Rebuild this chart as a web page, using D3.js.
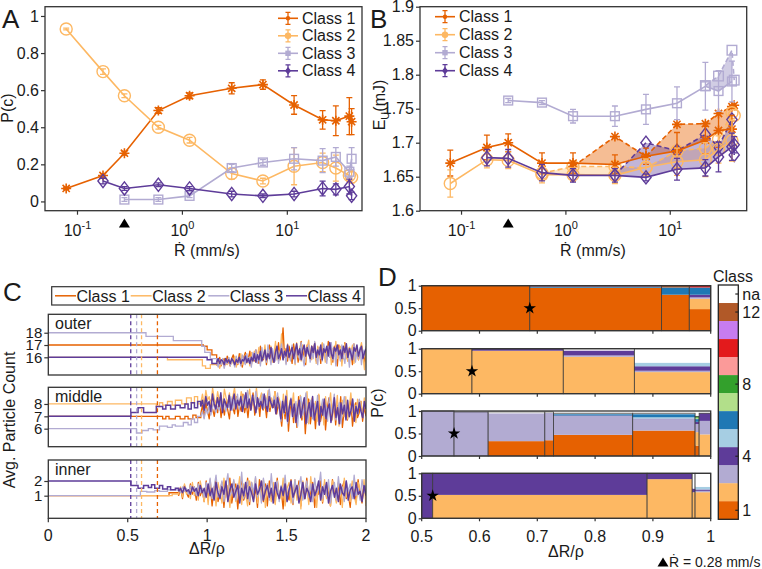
<!DOCTYPE html>
<html><head><meta charset="utf-8">
<script src="https://cdn.jsdelivr.net/npm/d3@7/dist/d3.min.js"></script>
<style>html,body{margin:0;padding:0;background:#fff}svg{display:block}</style>
</head><body>
<svg id="fig" width="762" height="569" xmlns="http://www.w3.org/2000/svg"></svg>
<script>
// ================= DATA =================
const classNames = ["Class 1","Class 2","Class 3","Class 4"];
const classColors = ["#e66101","#fdb863","#b2abd2","#5e3c99"];
const classMarkers = ["ast","circle","square","diamond"];
const rateTicks = [0.1, 1, 10];
const rateTickExp = ["-1","0","1"];
const markedRate = 0.28;
const rates = [0.078,0.175,0.28,0.59,1.17,2.95,5.85,11.6,21.7,29,39,41];

// Panel A: P(c)
const probC1 = [0.07,0.14,0.26,0.49,0.57,0.61,0.63,0.52,0.44,0.435,0.46,0.43];
const probC1Err = [0.005,0.01,0.01,0.015,0.015,0.03,0.025,0.05,0.05,0.08,0.1,0.07];
const probC2 = [0.93,0.70,0.57,0.40,0.33,0.15,0.11,0.19,0.21,0.18,0.14,0.13];
const probC2Err = [0.005,0.015,0.01,0.01,0.015,0.03,0.015,0.1,0.05,0.07,0.03,0.03];
const probC3 = [null,null,0.01,0.01,0.03,0.18,0.21,0.23,0.22,0.24,0.16,0.23];
const probC3Err = [null,null,0.01,0.01,0.01,0.02,0.015,0.06,0.065,0.05,0.03,0.06];
const probC4 = [null,0.11,0.07,0.09,0.07,0.04,0.03,0.04,0.07,0.065,0.08,0.03];
const probC4Err = [null,0.015,0.01,0.01,0.01,0.015,0.01,0.015,0.04,0.03,0.04,0.02];
const probTicks = [0,0.2,0.4,0.6,0.8,1];

// Panel B: E_U (mJ), mean with error (solid) and alternate estimate (dashed)
const energyC1 = [1.670,1.693,1.700,1.670,1.670,1.668,1.680,1.688,1.704,1.718,1.720,null];
const energyC1Err = [0.019,0.018,0.013,0.015,0.015,0.014,0.012,0.027,0.02,0.025,0.02,null];
const energyC1Alt = [null,null,null,null,1.665,1.709,1.680,1.727,1.728,1.743,1.753,1.755];
const energyC2 = [1.640,1.675,1.674,1.653,1.653,1.652,1.664,1.672,1.675,1.690,1.703,null];
const energyC2Err = [0.02,0.012,0.012,0.012,0.01,0.012,0.012,0.02,0.025,0.02,0.03,null];
const energyC2Alt = [null,null,null,1.655,1.665,1.665,1.663,1.688,1.692,1.705,1.744,1.740];
const energyC3 = [null,null,1.762,1.759,1.739,1.739,1.749,1.758,1.783,1.776,1.790,null];
const energyC3Err = [null,null,0.003,0.003,0.01,0.015,0.022,0.024,0.035,0.03,0.03,null];
const energyC3Alt = [null,null,null,null,null,null,null,null,1.784,1.798,1.836,1.792];
const energyC4 = [null,1.678,1.677,1.656,1.652,1.652,1.649,1.661,1.663,1.679,1.694,1.697];
const energyC4Err = [null,0.012,0.013,0.012,0.01,0.01,0.005,0.016,0.012,0.022,0.02,0.012];
const energyC4Alt = [null,null,null,null,null,1.652,1.700,1.688,1.712,1.694,1.734,1.682];
const energyTicks = [1.6,1.65,1.7,1.75,1.8,1.85,1.9];

// Transition points (ΔR/ρ) per class, used in C (dashed) and D (stars)
const transitionDR = [0.687, 0.587, 0.556, 0.519];

// Panel C: particle counts — step breakpoints [ΔR/ρ, count], then noisy samples up to ΔR/ρ = 2
const outerStep1 = [[0,17],[0.976,16.9],[1.0,16.6],[1.03,16.2]];
const outerStep2 = [[0,16],[0.75,15.8],[0.97,15.3],[0.99,15.1],[1.02,15.4]];
const outerStep3 = [[0,18],[0.615,17.7],[0.787,17.35],[0.966,16.9],[0.985,16.4],[1.02,15.9]];
const outerStep4 = [[0,16],[1.0,15.8],[1.03,15.5]];
const outerNoise1 = [15.8,15.5,16.0,15.3,15.7,15.9,15.4,16.1,15.6,15.3,15.9,16.2,15.5,15.8,15.4,16.3,15.7,15.2,16.0,16.4,15.6,15.9,16.5,15.4,16.1,15.7,16.6,16.0,15.5,16.9,16.2,15.8,16.7,15.4,16.4,17.0,15.9,16.3,15.6,16.8,16.1,17.2,15.8,16.5,18.4,16.0,16.7,15.7,16.9,16.3,15.5,17.1,16.2,16.8,15.6,16.5,17.3,16.0,16.6,15.4,17.0,16.3,15.9,16.9,16.1,17.2,15.7,16.4,16.8,15.5,17.1,16.2,16.6,15.8,17.3,16.0,16.7,15.6,16.9,16.4,15.3,17.0,16.1,16.6,15.9,17.2,16.3,15.7,16.8,16.5,15.4,17.1,16.0,16.7,15.8,16.4,17.0,16.2,15.6,16.6];
const outerNoise2 = [15.3,15.6,15.1,15.5,15.8,15.2,15.7,15.4,16.0,15.3,15.8,15.5,16.1,15.2,15.9,15.6,16.3,15.4,15.8,16.2,15.5,16.0,15.3,16.4,15.7,16.5,15.6,16.1,16.8,15.5,16.3,15.9,17.0,15.7,16.4,16.0,16.9,15.6,16.2,17.3,15.8,16.5,16.1,17.9,16.0,16.6,15.5,17.1,16.2,15.8,16.9,16.3,15.4,17.2,16.0,16.7,15.7,17.0,16.4,15.6,16.8,17.4,16.1,15.8,16.6,17.1,15.5,16.9,16.3,15.9,17.2,16.5,15.6,16.8,16.2,17.0,15.4,16.7,16.1,17.3,15.9,16.5,16.9,15.3,16.6,17.1,16.0,15.7,16.8,16.4,17.0,15.5,16.3,16.9,15.8,16.6,17.2,16.1,15.0,16.5];
const outerNoise3 = [15.6,15.2,15.8,15.4,15.9,15.1,15.7,15.5,16.0,15.3,15.8,15.6,15.2,16.1,15.5,15.9,15.3,16.2,15.7,15.4,16.3,15.6,16.0,15.2,16.4,15.8,16.6,15.5,16.2,15.3,16.8,15.9,16.4,15.6,17.0,16.1,15.4,16.7,16.0,15.7,16.9,15.5,16.3,17.1,15.8,16.5,15.4,16.8,16.1,15.7,17.0,16.2,15.5,16.9,16.4,15.8,17.2,16.0,15.3,16.7,16.3,17.0,15.6,16.5,15.9,17.3,16.1,15.4,16.8,16.2,15.7,17.1,16.4,15.5,16.9,16.0,17.2,15.8,16.6,15.3,16.9,16.3,15.7,17.0,16.1,15.5,16.8,16.4,15.2,16.7,16.0,17.1,15.6,16.5,15.9,16.8,15.4,16.6,16.2,16.9];
const outerNoise4 = [15.6,15.9,15.5,15.8,15.7,15.4,15.9,15.6,15.8,15.5,15.9,15.7,15.4,15.8,15.6,16.0,15.5,15.8,15.7,16.1,15.6,15.9,15.5,16.0,15.7,16.3,15.6,16.2,15.8,16.5,15.7,16.1,16.6,15.8,16.3,15.9,16.8,16.0,15.6,16.4,16.9,15.9,16.2,16.7,15.8,16.5,16.1,17.0,16.0,16.4,16.8,15.9,16.5,17.1,16.2,16.7,15.8,16.6,17.0,16.1,16.8,16.3,15.9,16.9,16.4,17.1,16.0,16.6,16.2,17.0,15.8,16.7,16.4,16.9,16.1,17.2,16.3,15.9,16.8,16.5,17.0,16.2,16.6,15.9,16.9,16.4,17.1,16.0,16.7,16.3,15.8,16.8,16.5,17.0,16.1,16.6,16.9,15.9,16.4,16.7];
const middleStep1 = [[0,7],[0.69,7.0],[0.72,6.8],[0.74,7.0],[0.76,6.8],[0.8,7.0],[0.83,6.8],[0.86,7.0],[0.88,6.8],[0.91,7.1],[0.93,6.9]];
const middleStep2 = [[0,8],[0.68,7.8],[0.7,8.1],[0.72,7.9],[0.75,8.2],[0.78,7.9],[0.8,8.3],[0.84,8.0],[0.87,8.5],[0.9,8.1],[0.92,8.6],[0.94,8.0]];
const middleStep3 = [[0,6],[0.555,5.65],[0.59,5.85],[0.63,6.0],[0.66,5.9],[0.7,6.2],[0.75,6.1],[0.78,6.3],[0.8,6.2],[0.85,6.5],[0.88,6.3],[0.9,6.8],[0.92,6.5],[0.94,7.0]];
const middleStep4 = [[0,7],[0.52,7.3],[0.565,7.7],[0.6,7.3],[0.66,7.3],[0.68,7.8],[0.72,7.6],[0.74,7.9],[0.77,7.6],[0.8,7.9],[0.83,7.7],[0.86,8.0],[0.88,7.6],[0.9,8.1],[0.92,7.7],[0.94,8.2]];
const middleNoise1 = [7.2,7.9,6.9,8.1,7.4,6.8,8.3,7.6,7.0,8.0,7.3,8.5,6.9,7.8,7.1,8.2,7.5,6.8,8.4,7.7,7.2,8.6,7.0,7.9,7.4,8.8,7.3,8.0,6.9,8.3,7.6,8.9,7.1,7.8,8.4,7.0,8.6,7.5,8.1,6.9,8.7,7.4,8.2,7.7,9.0,7.2,8.0,7.4,6.2,8.1,6.8,8.5,5.8,7.6,8.3,6.5,7.9,6.1,8.6,7.2,6.7,8.2,5.6,7.7,8.4,6.4,7.5,8.0,6.0,7.8,8.7,6.6,7.3,8.1,5.9,7.6,8.5,6.9,7.2,8.3,6.3,7.9,6.8,8.6,6.1,7.4,8.0,6.7,7.7,8.4,6.2,7.5,8.1,6.9,7.3,8.2,6.6,7.8,7.0];
const middleNoise2 = [8.1,8.8,7.9,9.1,8.3,8.6,7.8,9.3,8.4,8.0,9.0,8.2,8.7,7.7,9.2,8.5,8.0,8.9,7.6,8.6,9.3,8.1,8.4,7.9,9.0,8.3,7.7,8.8,8.5,9.2,7.8,8.6,8.1,9.3,7.9,8.4,8.9,7.6,8.7,8.2,9.1,7.7,8.5,8.0,9.0,7.8,8.6,8.2,7.0,8.8,7.4,9.1,6.8,8.3,7.7,8.9,6.5,8.0,7.3,8.7,6.9,8.4,7.6,9.0,6.4,7.9,8.5,7.1,8.2,6.6,8.8,7.5,8.0,6.3,8.6,7.2,7.8,8.9,6.7,8.1,7.4,8.7,6.2,7.9,8.3,7.0,8.6,6.8,7.6,8.9,7.3,8.0,6.5,8.4,7.7,8.2,7.1,8.5,7.4];
const middleNoise3 = [7.0,7.4,6.8,7.6,7.2,7.9,7.1,7.7,8.1,7.3,7.8,7.5,8.2,7.6,8.4,7.4,8.0,7.7,8.6,7.5,8.3,7.9,8.8,7.6,8.4,8.0,8.7,7.7,9.1,8.2,7.8,8.6,8.0,9.0,7.6,8.4,8.1,8.8,7.7,8.5,7.9,9.2,8.2,7.8,8.6,8.0,8.9,7.6,6.6,8.3,7.2,8.7,6.4,7.8,8.5,6.9,7.5,8.2,6.2,7.9,8.6,7.1,7.7,8.9,6.5,7.4,8.3,6.8,8.0,7.3,8.7,6.3,7.6,8.4,7.0,7.9,6.6,8.5,7.2,7.8,8.8,6.7,7.5,8.1,6.4,7.7,8.6,7.1,8.0,6.9,7.4,8.3,6.8,7.9,7.2,8.4,7.5,6.9,8.0,7.6];
const middleNoise4 = [7.8,8.3,7.5,8.6,7.9,8.2,7.4,8.8,8.0,7.6,8.5,7.8,8.9,7.3,8.4,8.0,7.7,8.7,7.5,8.2,8.8,7.6,8.3,7.9,8.6,7.4,8.1,8.9,7.7,8.4,7.5,8.7,8.0,7.3,8.5,7.8,8.2,7.6,8.8,7.9,7.4,8.6,8.1,7.7,8.3,7.2,8.5,7.9,6.8,8.2,7.3,8.6,6.6,7.7,8.4,7.0,8.0,6.5,7.6,8.3,6.9,7.8,8.5,6.4,7.4,8.1,7.0,8.6,6.7,7.5,8.2,6.3,7.8,7.1,8.4,6.8,7.6,8.0,6.5,7.3,8.5,6.9,7.7,6.4,8.1,7.2,7.9,6.7,8.3,7.0,7.5,8.4,6.6,7.8,7.2,8.1,7.4,6.9,8.2,7.6];
const innerStep1 = [[0,1],[0.7,1.0],[0.76,1.2]];
const innerStep2 = [[0,1],[0.6,1.0],[0.78,1.1]];
const innerStep3 = [[0,1],[0.58,1.3],[0.62,1.25],[0.67,1.35],[0.7,1.3],[0.75,1.4]];
const innerStep4 = [[0,2],[0.52,1.7],[0.565,1.5],[0.6,1.7],[0.63,1.55],[0.65,1.75],[0.67,1.5],[0.7,1.7],[0.72,1.45],[0.75,1.6],[0.77,1.4],[0.8,1.5]];
const innerNoise1 = [1.0,1.5,0.8,1.7,1.2,0.9,1.8,1.1,1.6,0.7,1.9,1.0,1.4,0.6,2.0,0.9,1.8,0.3,1.5,2.1,0.6,1.2,1.9,0.2,1.7,1.0,2.2,0.5,1.4,1.8,0.1,1.6,2.0,0.7,1.1,2.2,0.4,1.9,0.8,1.5,0.2,2.1,1.3,0.6,1.8,0.3,2.0,1.0,1.6,0.5,2.2,0.9,1.4,0.1,1.9,1.2,0.7,2.1,0.4,1.7,1.0,2.0,0.3,1.5,0.8,2.2,0.6,1.3,1.9,0.2,1.6,1.1,2.0,0.5,1.8,0.9,1.4,0.3,2.1,1.2,0.7,1.9,0.4,1.6,2.0,0.8,1.1,0.2,1.8,1.3,0.6,2.1,1.0,0.5,1.7,0.9];
const innerNoise2 = [1.2,1.6,0.9,1.8,1.1,1.4,0.8,1.9,1.0,1.5,0.7,2.0,1.3,0.6,1.7,0.4,2.1,1.0,1.6,0.3,1.9,1.2,0.5,2.2,0.9,1.7,0.2,1.5,2.0,0.6,1.3,2.3,0.4,1.8,1.1,0.3,2.0,1.4,0.7,2.2,0.5,1.6,1.0,2.1,0.2,1.8,1.3,0.6,1.9,0.4,2.0,1.1,0.8,2.2,0.3,1.5,1.9,0.5,1.2,2.1,0.7,1.7,0.1,2.0,1.0,1.6,0.4,2.3,0.9,1.4,0.2,1.9,1.2,0.6,2.1,0.8,1.7,0.3,2.0,1.1,0.5,1.8,1.5,0.2,2.2,0.9,1.3,0.6,2.0,1.0,0.4,1.9,1.4,0.7,2.1,0.3];
const innerNoise3 = [1.4,1.2,1.6,1.3,1.5,1.1,1.7,1.3,1.6,1.0,1.8,1.2,1.5,0.9,1.9,1.2,2.2,0.8,1.6,2.4,0.9,1.4,2.0,0.6,1.7,2.5,1.0,1.3,2.1,0.7,1.8,1.1,2.6,0.8,1.5,2.0,0.6,1.9,1.2,2.3,0.9,1.6,0.5,2.2,1.3,1.8,0.7,2.5,1.0,1.5,2.0,0.6,1.7,1.2,2.4,0.8,1.4,1.9,0.5,2.1,1.1,1.6,2.3,0.7,1.3,2.0,0.9,1.8,0.6,2.2,1.2,1.5,2.6,0.8,1.7,1.0,2.1,0.5,1.4,1.9,0.7,2.3,1.1,1.6,0.6,2.0,1.3,1.8,0.8,2.4,1.0,1.5,0.7,2.1,1.2,1.7];
const innerNoise4 = [1.3,1.5,1.2,1.6,1.3,1.4,1.1,1.6,1.3,1.5,1.0,1.7,1.2,1.5,0.9,1.8,1.0,1.5,0.7,1.9,1.2,0.8,1.6,1.1,2.0,0.6,1.4,1.8,0.9,1.3,1.7,0.5,1.5,1.0,1.9,0.8,1.6,1.2,0.6,1.8,1.1,1.4,2.0,0.7,1.3,1.7,0.9,1.5,0.5,1.9,1.2,0.8,1.6,1.0,1.8,0.6,1.4,2.0,0.9,1.3,1.7,0.5,1.1,1.9,0.8,1.5,1.2,0.6,1.8,1.0,1.4,2.0,0.7,1.6,1.1,1.9,0.5,1.3,1.7,0.9,1.5,0.6,1.8,1.2,1.0,2.0,0.7,1.4,1.6,0.8,1.9,1.1,1.3,0.6,1.7,1.0];
const countPanelNames = ["outer","middle","inner"];
const countTicks = [[16,17,18],[6,7,8],[1,2]];
const noiseStartDR = [1.06, 0.96, 0.82];
const drTicksC = [0,0.5,1,1.5,2];

// Panel D: class composition by ΔR/ρ interval (class 13 = na)
const mosaicEdges1 = [0.5,0.687,0.915,0.963,1.0];
const mosaicComp1 = [[[1,1]],[[1,0.955],[6,0.03],[10,0.015]],[[1,0.80],[6,0.16],[12,0.04]],[[1,0.48],[2,0.23],[3,0.03],[4,0.06],[6,0.16],[10,0.04]]];
const mosaicEdges2 = [0.5,0.587,0.745,0.868,1.0];
const mosaicComp2 = [[[2,1]],[[2,0.955],[4,0.04]],[[2,0.82],[3,0.03],[4,0.11],[13,0.04]],[[2,0.48],[3,0.03],[4,0.10],[5,0.08],[13,0.31]]];
const mosaicEdges3 = [0.5,0.556,0.615,0.713,0.728,0.865,0.973,0.98,1.0];
const mosaicComp3 = [[[3,1]],[[3,0.98]],[[1,0.33],[3,0.62],[13,0.03]],[[1,0.35],[3,0.61],[13,0.02]],[[1,0.47],[3,0.42],[4,0.01],[6,0.03],[13,0.02]],[[1,0.565],[3,0.255],[4,0.01],[5,0.03],[6,0.07],[13,0.02]],[[1,0.23],[2,0.30],[3,0.18],[4,0.05],[6,0.06],[7,0.03],[8,0.03]],[[2,0.48],[3,0.30],[4,0.17]]];
const mosaicEdges4 = [0.5,0.519,0.89,0.968,0.973,1.0];
const mosaicComp4 = [[[4,1]],[[2,0.52],[4,0.48]],[[2,0.87],[4,0.13]],[[2,0.58],[4,0.08],[13,0.34]],[[2,0.58],[3,0.03],[4,0.03],[5,0.06],[13,0.30]]];
const mosaicClassColors = ["#e66101","#fdb863","#b2abd2","#5e3c99","#a6cee3","#1f78b4","#b2df8a","#33a02c","#fb9a99","#e31a1c","#c77cf0","#b15928","#ffffff"];
const colorbarLabels = [[13,"na"],[12,"12"],[8,"8"],[4,"4"],[1,"1"]];
const drTicksD = [0.5,0.6,0.7,0.8,0.9,1];
const pcTicksD = [0,0.5,1];

// ================= DRAWING =================
const FONT = '"Liberation Sans", Arial, Helvetica, sans-serif';
const INK = "#1a1a1a";
const AXC = "#333";
const svg = d3.select("#fig");

function text(x, y, s, size, anchor, g) {
  return (g || svg).append("text").attr("x", x).attr("y", y).attr("font-family", FONT)
    .attr("font-size", size).attr("fill", INK).attr("text-anchor", anchor || "start").text(s);
}
function box(x0, y0, x1, y1) {
  svg.append("rect").attr("x", x0).attr("y", y0).attr("width", x1 - x0).attr("height", y1 - y0)
    .attr("fill", "none").attr("stroke", AXC).attr("stroke-width", 1.3);
}
function leftAxis(y, x, vals, fmt, size, tick) {
  const g = svg.append("g").attr("transform", `translate(${x},0)`)
    .call(d3.axisLeft(y).tickValues(vals).tickFormat(fmt).tickSize(tick || 4).tickPadding(2));
  g.select(".domain").remove();
  g.selectAll("line").attr("stroke", AXC).attr("stroke-width", 1.2);
  g.selectAll("text").attr("font-size", size || 16).attr("font-family", FONT).attr("fill", INK);
  return g;
}
function bottomTicks(x, y, vals, len) {
  vals.forEach(v => svg.append("line").attr("x1", x(v)).attr("x2", x(v)).attr("y1", y).attr("y2", y + (len || 4))
    .attr("stroke", AXC).attr("stroke-width", 1.2));
}
function marker(g, type, cx, cy, color, s, filled) {
  const sw = filled ? 1.2 : 1.4;
  if (type === "ast") {
    const k = s * 0.72;
    g.append("path").attr("d", `M${cx-s},${cy}L${cx+s},${cy}M${cx},${cy-s}L${cx},${cy+s}M${cx-k},${cy-k}L${cx+k},${cy+k}M${cx-k},${cy+k}L${cx+k},${cy-k}`)
      .attr("stroke", color).attr("stroke-width", 1.6).attr("fill", "none");
  } else if (type === "circle") {
    g.append("circle").attr("cx", cx).attr("cy", cy).attr("r", s)
      .attr("fill", filled ? color : "none").attr("stroke", color).attr("stroke-width", sw);
  } else if (type === "square") {
    const h = s * 0.8;
    g.append("rect").attr("x", cx - h).attr("y", cy - h).attr("width", 2 * h).attr("height", 2 * h)
      .attr("fill", filled ? color : "none").attr("stroke", color).attr("stroke-width", sw);
  } else {
    const w = s * 0.85;
    g.append("path").attr("d", `M${cx},${cy-s*1.1}L${cx+w},${cy}L${cx},${cy+s*1.1}L${cx-w},${cy}Z`)
      .attr("fill", filled ? color : "none").attr("stroke", color).attr("stroke-width", sw);
  }
}
function series(g, xs, ys, errs, xS, yS, color, mtype, msize, dashed) {
  const pts = xs.map((x, i) => ({ x, y: ys[i], e: errs ? errs[i] : null })).filter(d => d.y != null);
  g.append("path").datum(pts).attr("d", d3.line().x(d => xS(d.x)).y(d => yS(d.y)))
    .attr("fill", "none").attr("stroke", color).attr("stroke-width", 1.6)
    .attr("stroke-dasharray", dashed ? "5,3" : null);
  pts.forEach(d => {
    const cx = xS(d.x), cy = yS(d.y);
    if (d.e != null) {
      const y1 = yS(d.y + d.e), y2 = yS(d.y - d.e);
      g.append("path").attr("d", `M${cx},${y1}L${cx},${y2}M${cx-3},${y1}L${cx+3},${y1}M${cx-3},${y2}L${cx+3},${y2}`)
        .attr("stroke", color).attr("stroke-width", 1.3).attr("fill", "none");
    }
    marker(g, mtype, cx, cy, color, msize, false);
  });
}
function legendRateStyle(x0, yTop, spacing) {
  classNames.forEach((nm, i) => {
    const y = yTop + i * spacing, c = classColors[i];
    svg.append("line").attr("x1", x0).attr("x2", x0 + 20).attr("y1", y).attr("y2", y).attr("stroke", c).attr("stroke-width", 1.6);
    svg.append("path").attr("d", `M${x0+10},${y-6}L${x0+10},${y+6}M${x0+7.5},${y-6}L${x0+12.5},${y-6}M${x0+7.5},${y+6}L${x0+12.5},${y+6}`)
      .attr("stroke", c).attr("stroke-width", 1.3);
    const g = svg.append("g");
    if (classMarkers[i] === "ast") g.append("circle").attr("cx", x0 + 10).attr("cy", y).attr("r", 2.2).attr("fill", c);
    else marker(g, classMarkers[i], x0 + 10, y, c, 2.6, true);
    text(x0 + 24, y + 5.5, nm, 16);
  });
}
function logLabels(scale, y) {
  rateTicks.forEach((v, i) => {
    const t = svg.append("text").attr("x", scale(v)).attr("y", y).attr("text-anchor", "middle")
      .attr("font-size", 16).attr("font-family", FONT).attr("fill", INK);
    t.append("tspan").text("10");
    t.append("tspan").attr("dy", -7).attr("font-size", 11).text(rateTickExp[i]);
  });
}
function triangleAt(x, yTop, w) {
  svg.append("path").attr("d", `M${x-w/2},${yTop+9}L${x+w/2},${yTop+9}L${x},${yTop}Z`).attr("fill", "#000");
}
function rotLabel(x, y, build) {
  const t = svg.append("text").attr("transform", `translate(${x},${y}) rotate(-90)`).attr("text-anchor", "middle")
    .attr("font-family", FONT).attr("font-size", 16).attr("fill", INK);
  build(t);
}

// ---------- Panel A ----------
const xA = d3.scaleLog().domain([0.049, 51.5]).range([45, 362]);
const yA = d3.scaleLinear().domain([-0.05, 1.05]).range([210.7, 6.7]);
leftAxis(yA, 45, probTicks, d => String(d));
bottomTicks(xA, 210.7, rateTicks, 4);
const gA = svg.append("g");
const probVals = [probC1, probC2, probC3, probC4], probErrs = [probC1Err, probC2Err, probC3Err, probC4Err];
probVals.forEach((v, i) => series(gA, rates, v, probErrs[i], xA, yA, classColors[i], classMarkers[i], i === 0 ? 5 : (i === 2 ? 5.5 : 6), false));
box(45, 6.7, 362, 210.7);
legendRateStyle(278, 18.3, 17.5);
logLabels(xA, 236);
triangleAt(xA(markedRate), 218.5, 11);
text(207, 256, "Ṙ (mm/s)", 16, "middle");
rotLabel(13, 108, t => t.text("P(c)"));
text(2, 28, "A", 26);

// ---------- Panel B ----------
const xB = d3.scaleLog().domain([0.04, 54]).range([420, 746.7]);
const yB = d3.scaleLinear().domain([1.6, 1.9]).range([210.7, 6.7]);
leftAxis(yB, 420, energyTicks, d => d3.format(".2~f")(d));
bottomTicks(xB, 210.7, rateTicks, 4);
const gB = svg.append("g");
const eVals = [energyC1, energyC2, energyC3, energyC4];
const eErrs = [energyC1Err, energyC2Err, energyC3Err, energyC4Err];
const eAlts = [energyC1Alt, energyC2Alt, energyC3Alt, energyC4Alt];
const fillOps = [0.42, 0.35, 0.6, 0.38];
[0, 1, 3, 2].forEach(i => {
  const pts = rates.map((x, k) => ({ x, a: eVals[i][k], b: eAlts[i][k] })).filter(d => d.a != null && d.b != null);
  gB.append("path").datum(pts).attr("d", d3.area().x(d => xB(d.x)).y0(d => yB(d.a)).y1(d => yB(d.b)))
    .attr("fill", classColors[i]).attr("fill-opacity", fillOps[i]);
});
eAlts.forEach((v, i) => series(gB, rates, v, null, xB, yB, classColors[i], classMarkers[i], i === 0 ? 5 : 6, true));
eVals.forEach((v, i) => series(gB, rates, v, eErrs[i], xB, yB, classColors[i], classMarkers[i], i === 0 ? 5 : (i === 2 ? 5.5 : 6), false));
box(420, 6.7, 746.7, 210.7);
legendRateStyle(435, 16.7, 18);
logLabels(xB, 236);
triangleAt(xB(markedRate), 218.5, 11);
text(593, 256, "Ṙ (mm/s)", 16, "middle");
rotLabel(385, 105, t => { t.append("tspan").text("E"); t.append("tspan").attr("font-size", 11).attr("dy", 4).text("U"); t.append("tspan").attr("dy", -4).text("(mJ)"); });
text(370, 28, "B", 26);

// ---------- Panel C ----------
const xC = d3.scaleLinear().domain([0, 2]).range([48.3, 366]);
const cLayout = [
  { top: 314.3, bottom: 375, dom: [14.56, 19.5] },
  { top: 387.3, bottom: 446.7, dom: [4.54, 9.35] },
  { top: 460, bottom: 518.3, dom: [-0.54, 3.43] }
];
const cSteps = [[outerStep1, outerStep2, outerStep3, outerStep4], [middleStep1, middleStep2, middleStep3, middleStep4], [innerStep1, innerStep2, innerStep3, innerStep4]];
const cNoise = [[outerNoise1, outerNoise2, outerNoise3, outerNoise4], [middleNoise1, middleNoise2, middleNoise3, middleNoise4], [innerNoise1, innerNoise2, innerNoise3, innerNoise4]];
const defs = svg.append("defs");
cLayout.forEach((L, p) => {
  const y = d3.scaleLinear().domain(L.dom).range([L.bottom, L.top]);
  defs.append("clipPath").attr("id", "clipC" + p).append("rect").attr("x", xC(0)).attr("y", L.top).attr("width", xC(2) - xC(0)).attr("height", L.bottom - L.top);
  const g = svg.append("g").attr("clip-path", `url(#clipC${p})`);
  for (let c = 0; c < 4; c++) {
    const noise = cNoise[p][c], n = noise.length, x0 = noiseStartDR[p];
    const noisePts = noise.map((v, k) => [x0 + k * (2 - x0) / (n - 1), v]);
    const stepPts = cSteps[p][c].concat([noisePts[0]]);
    const sw = c === 3 ? 1.5 : 1.3;
    g.append("path").datum(stepPts).attr("d", d3.line().curve(d3.curveStepAfter).x(d => xC(d[0])).y(d => y(d[1])))
      .attr("fill", "none").attr("stroke", classColors[c]).attr("stroke-width", sw);
    g.append("path").datum(noisePts).attr("d", d3.line().x(d => xC(d[0])).y(d => y(d[1])))
      .attr("fill", "none").attr("stroke", classColors[c]).attr("stroke-width", sw).attr("stroke-linejoin", "round");
  }
  transitionDR.forEach((v, c) => {
    svg.append("line").attr("x1", xC(v)).attr("x2", xC(v)).attr("y1", L.top).attr("y2", L.bottom)
      .attr("stroke", classColors[c]).attr("stroke-width", 1.3).attr("stroke-dasharray", "4,3");
  });
  leftAxis(y, 48.3, countTicks[p], d => String(d), 15);
  box(48.3, L.top, 366, L.bottom);
  text(55, L.top + 14.5, countPanelNames[p], 16);
});
bottomTicks(xC, 518.3, drTicksC, 4);
drTicksC.forEach(v => text(xC(v), 541, String(v), 16, "middle"));
text(207, 554, "ΔR/ρ", 16, "middle");
rotLabel(15, 420, t => t.text("Avg. Particle Count"));
// legend C
svg.append("rect").attr("x", 51.7).attr("y", 286.7).attr("width", 312.3).attr("height", 18.3).attr("fill", "#fff").attr("stroke", AXC).attr("stroke-width", 1.2);
const legCx = [55, 130.7, 208.3, 286];
classNames.forEach((nm, i) => {
  svg.append("line").attr("x1", legCx[i]).attr("x2", legCx[i] + 21).attr("y1", 295.8).attr("y2", 295.8).attr("stroke", classColors[i]).attr("stroke-width", 1.5);
  text(legCx[i] + 21.5, 301.5, nm, 16);
});
text(3, 301, "C", 26);

// ---------- Panel D ----------
const xD = d3.scaleLinear().domain([0.5, 1]).range([421.7, 710.7]);
const dTops = [285.7, 348.7, 411, 473.3], dH = 45;
const mEdges = [mosaicEdges1, mosaicEdges2, mosaicEdges3, mosaicEdges4];
const mComps = [mosaicComp1, mosaicComp2, mosaicComp3, mosaicComp4];
dTops.forEach((top, p) => {
  const y = d3.scaleLinear().domain([0, 1]).range([top + dH, top]);
  const g = svg.append("g");
  mComps[p].forEach((comp, k) => {
    const x0 = xD(mEdges[p][k]), x1 = xD(mEdges[p][k + 1]);
    let acc = 0;
    comp.forEach(([cls, v]) => {
      g.append("rect").attr("x", x0).attr("y", y(acc + v)).attr("width", x1 - x0).attr("height", y(acc) - y(acc + v))
        .attr("fill", mosaicClassColors[cls - 1]);
      acc += v;
    });
    g.append("rect").attr("x", x0).attr("y", y(acc)).attr("width", x1 - x0).attr("height", y(0) - y(acc))
      .attr("fill", "none").attr("stroke", "#3a3a3a").attr("stroke-width", 0.9).attr("stroke-opacity", 0.85);
  });
  svg.append("path").attr("d", d3.symbol().type(d3.symbolStar).size(48)())
    .attr("transform", `translate(${xD(transitionDR[p])},${y(0.5)})`).attr("fill", "#000");
  leftAxis(y, 421.7, pcTicksD, d => String(d), 16, 3);
  box(421.7, top, 710.7, top + dH);
  bottomTicks(xD, top + dH, drTicksD, 3);
});
drTicksD.forEach(v => text(xD(v), 542, String(v), 16, "middle"));
text(566, 557, "ΔR/ρ", 16, "middle");
rotLabel(383, 403, t => t.text("P(c)"));
text(378, 286, "D", 26);
// colorbar
const cbX = 718.3, cbW = 20, cbTop = 285, cbBot = 519.3, cbN = 13, cbH = (cbBot - cbTop) / cbN;
for (let k = 0; k < cbN; k++) {
  const cls = 13 - k;
  svg.append("rect").attr("x", cbX).attr("y", cbTop + k * cbH).attr("width", cbW).attr("height", cbH + 0.3)
    .attr("fill", mosaicClassColors[cls - 1]);
}
svg.append("rect").attr("x", cbX).attr("y", cbTop).attr("width", cbW).attr("height", cbBot - cbTop)
  .attr("fill", "none").attr("stroke", "#222").attr("stroke-width", 1.3);
colorbarLabels.forEach(([cls, lab]) => {
  const yc = cbTop + (13 - cls + 0.5) * cbH;
  svg.append("line").attr("x1", cbX + cbW - 3).attr("x2", cbX + cbW).attr("y1", yc).attr("y2", yc).attr("stroke", "#222").attr("stroke-width", 1.2);
  text(cbX + cbW + 4, yc + 5.5, lab, 16);
});
text(733, 282, "Class", 16, "middle");
// footnote
triangleAt(663, 557.5, 11);
text(669, 567, "Ṙ = 0.28 mm/s", 14);
</script>
</body></html>
